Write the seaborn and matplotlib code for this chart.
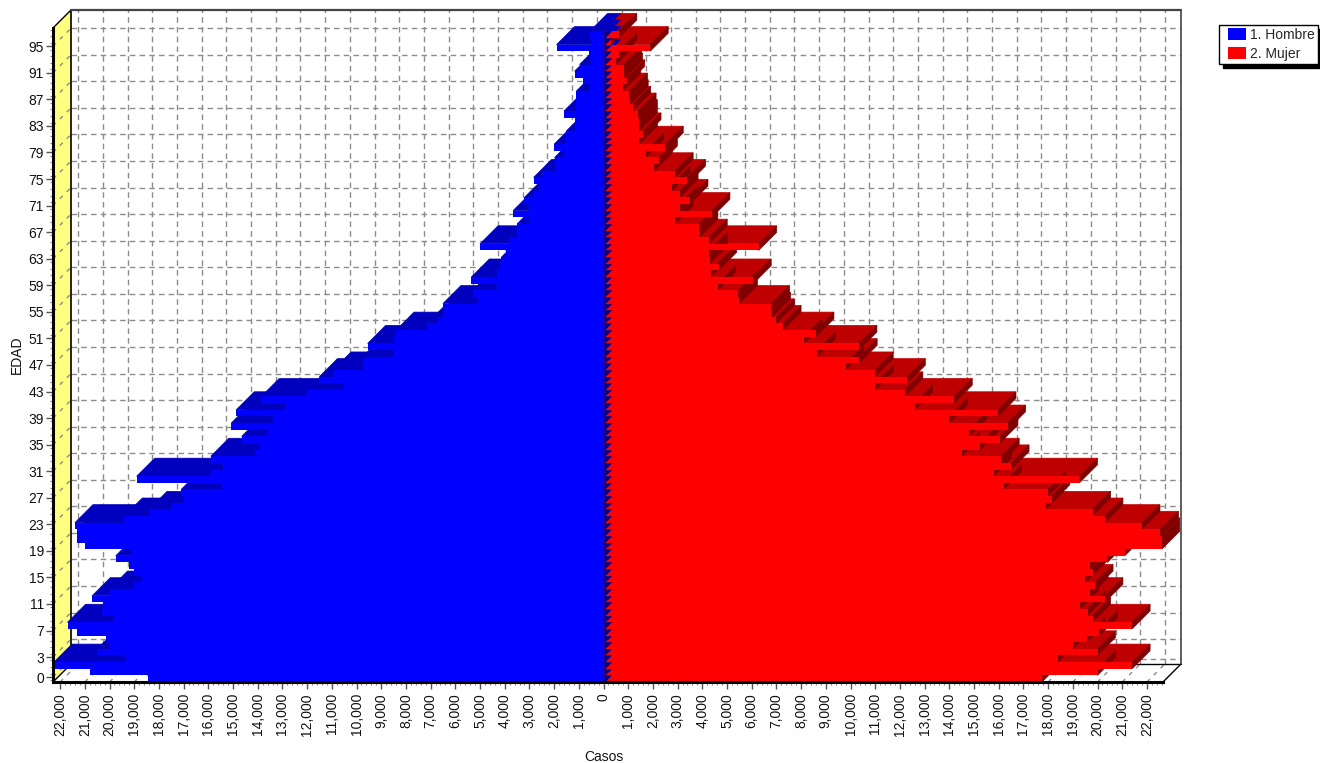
import numpy as np
import pandas as pd
import matplotlib
matplotlib.use("Agg")
import matplotlib.pyplot as plt
from matplotlib.container import BarContainer
from matplotlib.legend_handler import HandlerPatch, update_from_first_child
from matplotlib.patches import Polygon
import seaborn as sns

# cases per age (age 0 up to 97)
hombre = [18460, 20800, 22250, 19350, 20500, 20000, 20160, 21300, 21700, 19800,
          20300, 20250, 20700, 20000, 19000, 18700, 19000, 19200, 19750, 19100,
          21000, 21300, 21300, 21400, 19400, 18400, 17500, 17000, 17100, 15450,
          18900, 15900, 15400, 15900, 14100, 13900, 14650, 13600, 15070, 13400,
          14870, 12900, 13860, 12000, 10500, 11500, 10950, 9750, 9750, 8500,
          9550, 8500, 8400, 7150, 6700, 6500, 6500, 5070, 5300, 4330,
          5350, 4330, 4200, 4130, 3960, 5000, 3830, 3500, 3500, 3000,
          3660, 3000, 3200, 2800, 2600, 2830, 2450, 1950, 1980, 1600,
          2000, 1500, 1500, 1170, 1170, 1600, 1130, 1100, 1100, 570,
          830, 1170, 970, 500, 570, 1900, 500, 560]
mujer = [17750, 20000, 21400, 18400, 20000, 19000, 19570, 20080, 21400, 19800,
         19600, 19300, 20300, 19700, 19900, 19500, 19800, 19700, 20400, 21100,
         22600, 22600, 22550, 21800, 20300, 19800, 17900, 18150, 18000, 16200,
         19270, 15800, 16500, 16100, 14500, 15260, 16050, 14800, 16360, 14000,
         15970, 12600, 14200, 12200, 11000, 12300, 11000, 9800, 10350, 8660,
         10340, 8120, 8600, 7270, 7000, 6840, 6800, 5500, 5460, 4620,
         6060, 4350, 4660, 4300, 4280, 6280, 4280, 3900, 3880, 2900,
         4390, 3100, 3500, 3100, 2780, 3400, 2900, 2060, 2260, 1720,
         2500, 1450, 1600, 1450, 1450, 1400, 1180, 1080, 1050, 780,
         940, 850, 820, 500, 620, 1890, 310, 620]
edad = list(range(len(hombre)))
edad_ticks = [0, 3] + list(range(7, 96, 4))
casos_ticks = list(range(-22000, 22001, 1000))

df = pd.DataFrame({"edad": edad, "hombre": -np.array(hombre), "mujer": mujer})

sns.set_style("white")
plt.rcParams["font.family"] = ["Liberation Sans", "DejaVu Sans"]
plt.rcParams["font.size"] = 10

W, H = 1320, 763
fig = plt.figure(figsize=(W / 100, H / 100), dpi=100)
# front plane of the fake 3D box, in pixels: x 53-1163, y 28-682
ax = fig.add_axes([53 / W, 1 - 682 / H, 1110 / W, 654 / H])

sns.barplot(data=df, x="hombre", y="edad", orient="h", color="#0000FF", saturation=1,
            width=1, linewidth=0, label="1. Hombre", ax=ax)
sns.barplot(data=df, x="mujer", y="edad", orient="h", color="#FF0000", saturation=1,
            width=1, linewidth=0, label="2. Mujer", ax=ax)

xmin, xmax = (53 - 603.5) / 0.0247, (1163 - 603.5) / 0.0247
ymin, ymax = -0.5, 98.0
ax.set_xlim(xmin, xmax)
ax.set_ylim(ymin, ymax)
dx = 18 * (xmax - xmin) / 1110
dy = 18 * (ymax - ymin) / 654
tooth = 7 * (xmax - xmin) / 1110

for bar in ax.patches:
    bar.set_zorder(5)
    bar.set_antialiased(False)


def poly(points, color, z):
    ax.add_patch(Polygon(points, closed=True, facecolor=color, edgecolor=color,
                         linewidth=0.5, zorder=z, clip_on=False))


# walls and floor
poly([(xmin, ymin), (xmin + dx, ymin + dy), (xmin + dx, ymax + dy), (xmin, ymax)], "#FFFF80", 0.5)
grid = dict(color="#8c8c8c", lw=1, dashes=(4, 3), zorder=1, clip_on=False)
for t in edad_ticks:
    t = t + 0.25
    ax.plot([xmin + dx, xmax + dx], [t + dy, t + dy], **grid)
    ax.plot([xmin, xmin + dx], [t, t + dy], color="#8c8c8c", lw=1, dashes=(3, 4), zorder=1, clip_on=False)
for t in casos_ticks:
    ax.plot([t + dx, t + dx], [ymin + dy, ymax + dy], **grid)
    ax.plot([t, t + dx], [ymin, ymin + dy], color="#8c8c8c", lw=1, dashes=(3, 4), zorder=1, clip_on=False)

ax.plot([xmin + dx, xmin + dx], [ymin + dy, ymax + dy], color="black", lw=1.2, zorder=1.5, clip_on=False)
ax.plot([xmin + dx, xmax + dx], [ymin + dy, ymin + dy], color="black", lw=1, zorder=1.5, clip_on=False)
ax.plot([xmin, xmin + dx], [ymin, ymin + dy], color="black", lw=1, zorder=1.5, clip_on=False)
ax.plot([xmax, xmax + dx], [ymin, ymin + dy], color="black", lw=1, zorder=1.5, clip_on=False)
ax.plot([xmin, xmin + dx], [ymax, ymax + dy], color="black", lw=1, zorder=1.5, clip_on=False)
ax.plot([xmin + dx, xmax + dx], [ymax + dy, ymax + dy], color="#444444", lw=1.6, zorder=1.5, clip_on=False)
ax.plot([xmax + dx, xmax + dx], [ymin + dy, ymax + dy], color="#444444", lw=1.2, zorder=1.5, clip_on=False)

# tops first, back bars first, then the sides, the fronts stay above all of them
for i in reversed(edad):
    z = (len(edad) - i) * 0.01
    t = i + 0.5
    h, m = hombre[i], mujer[i]
    poly([(-h, t), (0, t), (dx, t + dy), (-h + dx, t + dy)], "#0000BE", 2 + z)
    poly([(0, t), (m, t), (m + dx, t + dy), (dx, t + dy)], "#BF0000", 2 + z + 0.001)
    poly([(m, t - 1), (m, t), (m + dx, t + dy), (m + dx, t - 1 + dy)], "#800000", 3 + z)
    # saw teeth along the centre line
    poly([(0, t - 1), (0, t), (tooth, t)], "#000090", 6)

ax.set_xticks(casos_ticks)
ax.set_xticklabels([f"{abs(t):,}" for t in casos_ticks], rotation=90)
ax.set_xticks(np.arange(-22000, 22601, 200), minor=True)
ax.set_yticks([t + 0.25 for t in edad_ticks])
ax.set_yticklabels([str(t) for t in edad_ticks])
ax.set_yticks(np.arange(-0.25, 98, 1), minor=True)
ax.tick_params(axis="x", which="major", length=5, width=1, color="#555555", labelsize=10, pad=3,
               labelcolor="#111111", bottom=True)
ax.tick_params(axis="y", which="major", length=5, width=1, color="#555555", labelsize=10, pad=1.5,
               labelcolor="#111111", left=True)
ax.tick_params(axis="both", which="minor", length=2.5, width=0.8, color="#888888", bottom=True, left=True)

for side in ["top", "right"]:
    ax.spines[side].set_visible(False)
for side in ["left", "bottom"]:
    ax.spines[side].set_linewidth(2.2)
    ax.spines[side].set_color("black")
    ax.spines[side].set_zorder(20)

ax.set_xlabel("Casos", fontsize=10, color="#111111")
ax.set_ylabel("EDAD", fontsize=10, color="#111111")
ax.xaxis.set_label_coords((604 - 53) / 1110, -(757 - 682) / 654, transform=ax.transAxes)
ax.yaxis.set_label_coords((17 - 53) / 1110, (682 - 355) / 654, transform=ax.transAxes)
ax.xaxis.label.set_va("center")
ax.yaxis.label.set_va("center")

leg = ax.legend(loc="upper left", bbox_to_anchor=(1219 / W, 1 - 25 / H), bbox_transform=fig.transFigure,
                borderaxespad=0, fontsize=10, frameon=True, fancybox=False, framealpha=1,
                edgecolor="black", handlelength=1.7, handleheight=0.9, handletextpad=0.3,
                labelspacing=0.35, borderpad=0.22, shadow={"color": "black", "alpha": 1, "ox": 3, "oy": -3},
                handler_map={BarContainer: HandlerPatch(xpad=0.4, update_func=update_from_first_child)})
leg.get_frame().set_linewidth(1)

fig.savefig("out.png", dpi=100)
